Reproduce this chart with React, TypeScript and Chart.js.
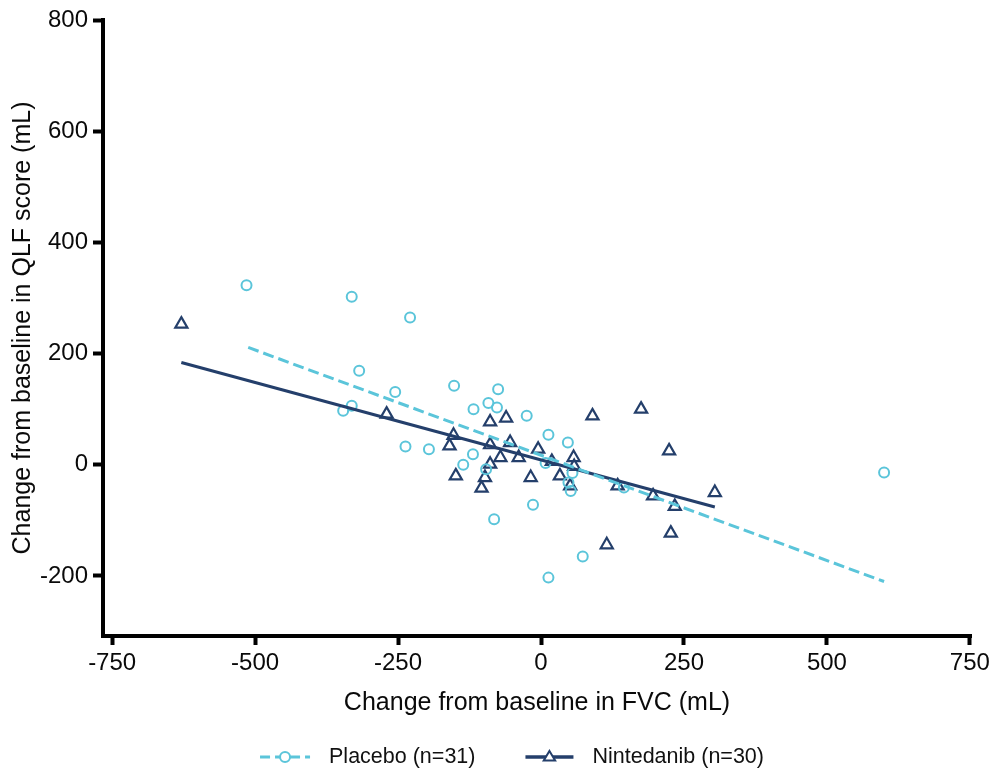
import React, { useEffect, useRef } from "react";
import { Chart, registerables } from "chart.js";

Chart.register(...registerables);

// ---------- data ----------
const placeboX = [-515, -331, -229, -318, -255, -331, -346, -237, -196, -152, -75, -118, -92, -77, -25, 13, 47, -119, -136, -96, 8, 55, 48, 52, -14, -82, 73, 13, 145, 600];
const placeboY = [323, 302, 265, 169, 131, 106, 97, 33, 28, 142, 136, 100, 111, 103, 88, 54, 40, 19, 0, -8, 3, -15, -32, -47, -72, -98, -165, -203, -41, -14];

const nintedanibX = [-629, -270, -89, -61, 90, 175, -153, -160, -89, -54, -5, -71, -39, -89, 19, 57, 58, 224, -149, -98, -18, 33, -104, 51, 134, 196, 304, 234, 227, 115];
const nintedanibY = [253, 91, 77, 84, 88, 100, 53, 34, 36, 40, 28, 13, 13, 1, 6, 13, -3, 25, -20, -23, -23, -20, -42, -38, -38, -56, -50, -75, -123, -144];

// regression lines (end points)
const placeboFitX = [-512, 600];
const placeboFitY = [211, -210];
const nintedanibFitX = [-629, 304];
const nintedanibFitY = [184, -76];

const xTicks = [-750, -500, -250, 0, 250, 500, 750];
const yTicks = [-200, 0, 200, 400, 600, 800];

const xTitle = "Change from baseline in FVC (mL)";
const yTitle = "Change from baseline in QLF score (mL)";
const seriesLabels = ["Placebo (n=31)", "Nintedanib (n=30)"];

const PLACEBO = "#5BC5DA";
const NINTEDANIB = "#243F6B";
const FONT = "'Liberation Sans', Arial, Helvetica, sans-serif";

const toPoints = (xs: number[], ys: number[]) => xs.map((x, i) => ({ x, y: ys[i] }));

const legendPlugin = {
  id: "customLegend",
  afterDraw(chart: any) {
    const ctx = chart.ctx as CanvasRenderingContext2D;
    ctx.save();
    ctx.font = `21.5px ${FONT}`;
    const w1 = ctx.measureText(seriesLabels[0]).width;
    const w2 = ctx.measureText(seriesLabels[1]).width;
    const sym1 = 50, sym2 = 48, gapText = 19, gapItems = 50;
    const total = sym1 + gapText + w1 + gapItems + sym2 + gapText + w2;
    const cx = 512;
    const y = 757;
    let x = cx - total / 2;

    // placebo symbol
    ctx.strokeStyle = PLACEBO;
    ctx.lineWidth = 3;
    ctx.setLineDash([10, 5]);
    ctx.beginPath();
    ctx.moveTo(x, y);
    ctx.lineTo(x + sym1, y);
    ctx.stroke();
    ctx.setLineDash([]);
    ctx.beginPath();
    ctx.arc(x + sym1 / 2, y, 5, 0, Math.PI * 2);
    ctx.fillStyle = "#fff";
    ctx.fill();
    ctx.lineWidth = 2;
    ctx.stroke();
    x += sym1 + gapText;
    ctx.fillStyle = "#111";
    ctx.textBaseline = "middle";
    ctx.textAlign = "left";
    ctx.fillText(seriesLabels[0], x, y);
    x += w1 + gapItems;

    // nintedanib symbol
    ctx.strokeStyle = NINTEDANIB;
    ctx.lineWidth = 3.5;
    ctx.beginPath();
    ctx.moveTo(x, y);
    ctx.lineTo(x + sym2, y);
    ctx.stroke();
    const tx = x + sym2 / 2;
    const r = 6;
    ctx.beginPath();
    ctx.moveTo(tx, y - r);
    ctx.lineTo(tx + r * 0.95, y + r * 0.6);
    ctx.lineTo(tx - r * 0.95, y + r * 0.6);
    ctx.closePath();
    ctx.fillStyle = "#fff";
    ctx.fill();
    ctx.lineWidth = 2;
    ctx.stroke();
    x += sym2 + gapText;
    ctx.fillStyle = "#111";
    ctx.fillText(seriesLabels[1], x, y);
    ctx.restore();
  },
};

export default function App() {
  const ref = useRef<HTMLCanvasElement | null>(null);

  useEffect(() => {
    document.body.style.margin = "0";
    const canvas = ref.current;
    if (!canvas) return;

    const chart = new Chart(canvas, {
      type: "scatter",
      data: {
        datasets: [
          {
            type: "line",
            label: "Placebo fit",
            data: toPoints(placeboFitX, placeboFitY),
            borderColor: PLACEBO,
            borderWidth: 3,
            borderDash: [11, 5],
            pointRadius: 0,
            fill: false,
            order: 0,
          },
          {
            type: "line",
            label: "Nintedanib fit",
            data: toPoints(nintedanibFitX, nintedanibFitY),
            borderColor: NINTEDANIB,
            borderWidth: 3,
            pointRadius: 0,
            fill: false,
            order: 0,
          },
          {
            label: seriesLabels[0],
            data: toPoints(placeboX, placeboY),
            pointStyle: "circle",
            pointRadius: 5,
            pointBorderWidth: 2,
            borderColor: PLACEBO,
            backgroundColor: "rgba(255,255,255,0)",
            order: 1,
          },
          {
            label: seriesLabels[1],
            data: toPoints(nintedanibX, nintedanibY),
            pointStyle: "triangle",
            pointRadius: 7,
            pointBorderWidth: 2.2,
            borderColor: NINTEDANIB,
            backgroundColor: "rgba(255,255,255,0)",
            order: 1,
          },
        ],
      },
      options: {
        responsive: false,
        animation: false,
        layout: { padding: { left: 0, right: 24, top: 20, bottom: 43 } },
        plugins: {
          legend: { display: false },
          tooltip: { enabled: false },
        },
        scales: {
          x: {
            type: "linear",
            min: -766,
            max: 752,
            afterBuildTicks: (s: any) => {
              s.ticks = xTicks.map((v) => ({ value: v }));
            },
            afterFit: (s: any) => {
              s.height = 90;
              s.paddingLeft = 0;
              s.paddingRight = 0;
            },
            ticks: {
              color: "#0a0a0a",
              font: { family: FONT, size: 24 },
              padding: 4,
              maxRotation: 0,
              callback: (v: any) => String(v),
            },
            grid: {
              display: true,
              drawOnChartArea: false,
              drawTicks: true,
              tickLength: 9,
              tickWidth: 4,
              tickColor: "#000",
            },
            border: { display: true, width: 4, color: "#000" },
            title: {
              display: true,
              text: xTitle,
              color: "#0a0a0a",
              font: { family: FONT, size: 25 },
              padding: { top: 0, bottom: 8 },
            },
          },
          y: {
            type: "linear",
            min: -308,
            max: 800,
            afterBuildTicks: (s: any) => {
              s.ticks = yTicks.map((v) => ({ value: v }));
            },
            afterFit: (s: any) => {
              s.width = 103;
              s.paddingTop = 0;
              s.paddingBottom = 0;
            },
            ticks: {
              color: "#0a0a0a",
              font: { family: FONT, size: 24 },
              padding: 5,
              callback: (v: any) => String(v),
            },
            grid: {
              display: true,
              drawOnChartArea: false,
              drawTicks: true,
              tickLength: 10,
              tickWidth: 4,
              tickColor: "#000",
            },
            border: { display: true, width: 4, color: "#000" },
            title: {
              display: true,
              text: yTitle,
              color: "#0a0a0a",
              font: { family: FONT, size: 25 },
              padding: { top: 8, bottom: 0 },
            },
          },
        },
      },
      plugins: [legendPlugin],
    } as any);

    return () => chart.destroy();
  }, []);

  return (
    <div style={{ width: 995, height: 769 }}>
      <canvas ref={ref} width={995} height={769} style={{ display: "block" }} />
    </div>
  );
}
